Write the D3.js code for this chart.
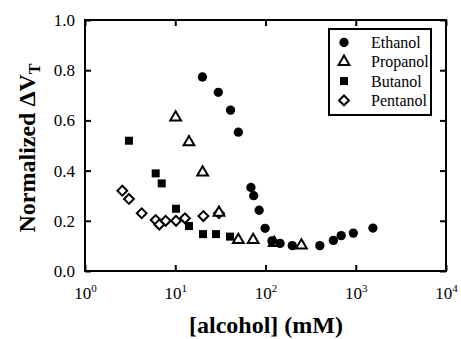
<!DOCTYPE html>
<html><head><meta charset="utf-8">
<script src="https://cdn.jsdelivr.net/npm/d3@7"></script>
<style>body{margin:0;background:#fff} text{font-family:'Liberation Serif','Times New Roman',Times,'DejaVu Serif',serif;}</style>
</head><body><svg id="c" width="461" height="339"></svg>
<script>
const ethanolX = [20, 30, 41, 50, 69, 74, 85, 99, 118, 145, 198, 400, 565, 690, 940, 1550];
const ethanolY = [0.773, 0.712, 0.641, 0.553, 0.333, 0.300, 0.242, 0.170, 0.120, 0.110, 0.101, 0.101, 0.122, 0.141, 0.151, 0.171];
const propanolX = [10.1, 14.2, 20.1, 30.5, 50, 73, 125, 250];
const propanolY = [0.612, 0.513, 0.393, 0.232, 0.124, 0.124, 0.112, 0.102];
const butanolX = [3.07, 6.07, 7.08, 10.2, 14.2, 20.3, 28.3, 40.4];
const butanolY = [0.519, 0.389, 0.349, 0.248, 0.179, 0.147, 0.147, 0.137];
const pentanolX = [2.59, 3.07, 4.25, 6.07, 6.66, 7.83, 10.2, 12.8, 20.5, 30.5];
const pentanolY = [0.320, 0.287, 0.230, 0.203, 0.185, 0.200, 0.200, 0.210, 0.219, 0.230];
const xTicks = [1, 10, 100, 1000, 10000];
const xTickExp = ["0", "1", "2", "3", "4"];
const yTicks = [0, 0.2, 0.4, 0.6, 0.8, 1.0];
const seriesNames = ["Ethanol", "Propanol", "Butanol", "Pentanol"];

const svg = d3.select("#c");
const L = 85, R = 446, T = 20, B = 271;
const x = d3.scaleLog().domain([1, 10000]).range([L, R]);
const y = d3.scaleLinear().domain([0, 1]).range([B, T]);

function styleAxis(g){
  g.select(".domain").remove();
  g.selectAll(".tick line").attr("stroke", "#000").attr("stroke-width", 2);
  g.selectAll(".tick text").remove();
}
svg.append("g").attr("transform", `translate(0,${B})`).call(d3.axisBottom(x).tickValues(xTicks).tickSize(-6).tickFormat("")).call(styleAxis);
svg.append("g").attr("transform", `translate(0,${T})`).call(d3.axisTop(x).tickValues(xTicks).tickSize(-6).tickFormat("")).call(styleAxis);
svg.append("g").attr("transform", `translate(${L},0)`).call(d3.axisLeft(y).tickValues(yTicks).tickSize(-6).tickFormat("")).call(styleAxis);
svg.append("g").attr("transform", `translate(${R},0)`).call(d3.axisRight(y).tickValues(yTicks).tickSize(-6).tickFormat("")).call(styleAxis);

svg.append("rect").attr("x", L).attr("y", T).attr("width", R - L).attr("height", B - T)
  .attr("fill", "none").attr("stroke", "#000").attr("stroke-width", 2);

// x tick labels
xTicks.forEach((v, i) => {
  const t = svg.append("text").attr("x", x(v) + 0.5).attr("y", 299).attr("text-anchor", "middle")
    .attr("font-size", 17).attr("fill", "#000");
  t.append("tspan").text("10");
  t.append("tspan").attr("dy", -7).attr("font-size", 11).text(xTickExp[i]);
});
// y tick labels
yTicks.forEach(v => {
  svg.append("text").attr("x", 75).attr("y", y(v) + 6).attr("text-anchor", "end")
    .attr("font-size", 17).attr("fill", "#000").text(v.toFixed(1));
});

// axis titles
svg.append("text").attr("x", 266).attr("y", 333).attr("text-anchor", "middle")
  .attr("font-size", 24).attr("font-weight", "bold").text("[alcohol] (mM)");
const yl = svg.append("text").attr("transform", "translate(35,148) rotate(-90)").attr("text-anchor", "middle")
  .attr("font-size", 24).attr("font-weight", "bold");
yl.append("tspan").text("Normalized \u0394V");
yl.append("tspan").attr("dy", 5).attr("font-size", 16).text("T");

// symbols
const sym = {
  Ethanol: d3.symbol().type(d3.symbolCircle).size(68),
  Propanol: d3.symbol().type(d3.symbolTriangle).size(50),
  Butanol: d3.symbol().type(d3.symbolSquare).size(64),
  Pentanol: d3.symbol().type(d3.symbolDiamond2).size(62)
};
const filled = {Ethanol: true, Propanol: false, Butanol: true, Pentanol: false};
function drawSeries(name, xs, ys){
  svg.append("g").selectAll("path").data(xs.map((v, i) => [v, ys[i]])).join("path")
    .attr("transform", d => `translate(${x(d[0])},${y(d[1])})`)
    .attr("d", sym[name]())
    .attr("fill", filled[name] ? "#000" : "#fff")
    .attr("stroke", "#000").attr("stroke-width", filled[name] ? 0 : 2);
}
drawSeries("Pentanol", pentanolX, pentanolY);
drawSeries("Butanol", butanolX, butanolY);
drawSeries("Propanol", propanolX, propanolY);
drawSeries("Ethanol", ethanolX, ethanolY);

// legend
const lg = svg.append("g");
lg.append("rect").attr("x", 329).attr("y", 29).attr("width", 102).attr("height", 86)
  .attr("fill", "#fff").attr("stroke", "#000").attr("stroke-width", 2);
seriesNames.forEach((n, i) => {
  const cy = 42.5 + i * 19.3;
  lg.append("path").attr("transform", `translate(344,${cy})`).attr("d", sym[n]())
    .attr("fill", filled[n] ? "#000" : "#fff").attr("stroke", "#000").attr("stroke-width", filled[n] ? 0 : 2);
  lg.append("text").attr("x", 371).attr("y", cy + 5.5).attr("font-size", 16).text(n);
});
</script></body></html>
